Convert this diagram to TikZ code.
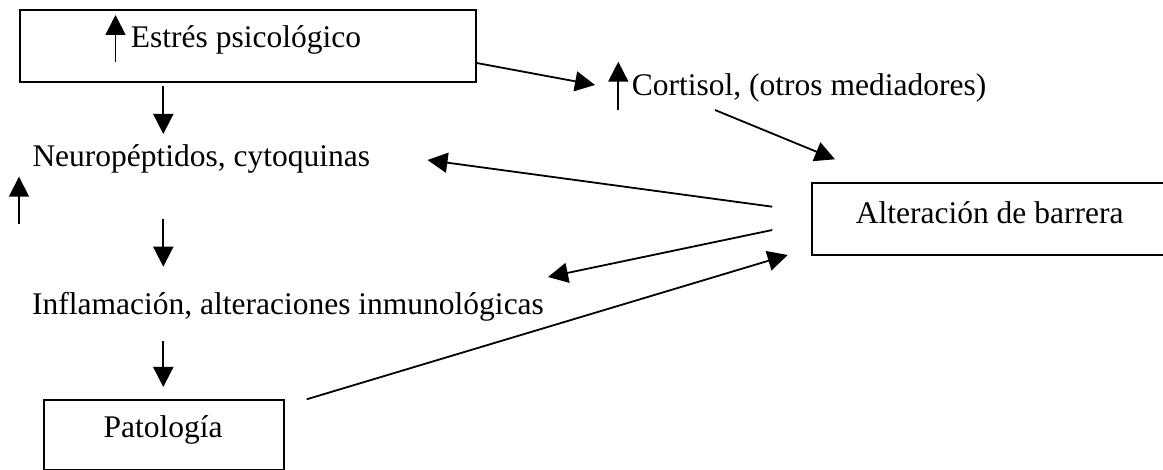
\documentclass[tikz,border=0pt]{standalone}
\usepackage{fontspec}
\setmainfont{Liberation Serif}
\usetikzlibrary{arrows.meta}
\begin{document}
\begin{tikzpicture}[x=1pt,y=-1pt,
  frame/.style={draw, line width=1.8pt, inner sep=0pt, anchor=north west},
  txt/.style={inner sep=0pt, anchor=base west, font=\fontsize{31.5}{37}\selectfont},
  flow/.style={-{Triangle[length=20pt,width=20pt]}, line width=1.8pt},
]
\useasboundingbox (0,0) rectangle (1163,470);
\clip (0,0) rectangle (1163,470);

% boxes
\node[frame, minimum width=456pt, minimum height=72pt] (estres) at (19,9) {};
\node[frame, minimum width=352pt, minimum height=72pt] (barrera) at (810.7,182.3) {};
\node[frame, minimum width=240.6pt, minimum height=69.5pt] (pato) at (42.7,399) {};

% labels
\node[txt] (testres) at (130.7,47.3) {Estrés psicológico};
\node[txt] (cort) at (631.7,96) {Cortisol, (otros mediadores)};
\node[txt] (neuro) at (32.3,166.7) {Neuropéptidos, cytoquinas};
\node[txt] (infl) at (32,315) {Inflamación, alteraciones inmunológicas};
\node[txt, anchor=base] (tpato) at (163,438) {Patología};
\node[txt] (tbarrera) at (855.7,223.3) {Alteración de barrera};

% arrow ends
\coordinate (u1a) at (115.5,61.7);  \coordinate (u1b) at (115.5,15);
\coordinate (d1a) at (163.3,86);    \coordinate (d1b) at (163.3,134);
\coordinate (d2a) at (163.3,219);   \coordinate (d2b) at (163.3,266.7);
\coordinate (d3a) at (163.3,341);   \coordinate (d3b) at (163.3,387);
\coordinate (u2a) at (19,224);      \coordinate (u2b) at (19,176.7);
\coordinate (u3a) at (618.3,110);   \coordinate (u3b) at (618.3,61.7);
\coordinate (ec) at (475,62.7);     \coordinate (ce) at (595,85);
\coordinate (cb) at (715,110);      \coordinate (bc) at (835,159.3);
\coordinate (bn) at (772.3,206.7);  \coordinate (nb) at (427.5,160);
\coordinate (bi) at (772.3,230);    \coordinate (ib) at (548,277);
\coordinate (pb) at (306.7,399.3);  \coordinate (bp) at (787.7,255);

% vertical arrows
\draw[flow] (u1a) -- (u1b);
\draw[flow] (d1a) -- (d1b);
\draw[flow] (d2a) -- (d2b);
\draw[flow] (d3a) -- (d3b);
\draw[flow] (u2a) -- (u2b);
\draw[flow] (u3a) -- (u3b);

% slanted arrows
\draw[flow] (ec) -- (ce);
\draw[flow] (cb) -- (bc);
\draw[flow] (bn) -- (nb);
\draw[flow] (bi) -- (ib);
\draw[flow] (pb) -- (bp);
\end{tikzpicture}
\end{document}
